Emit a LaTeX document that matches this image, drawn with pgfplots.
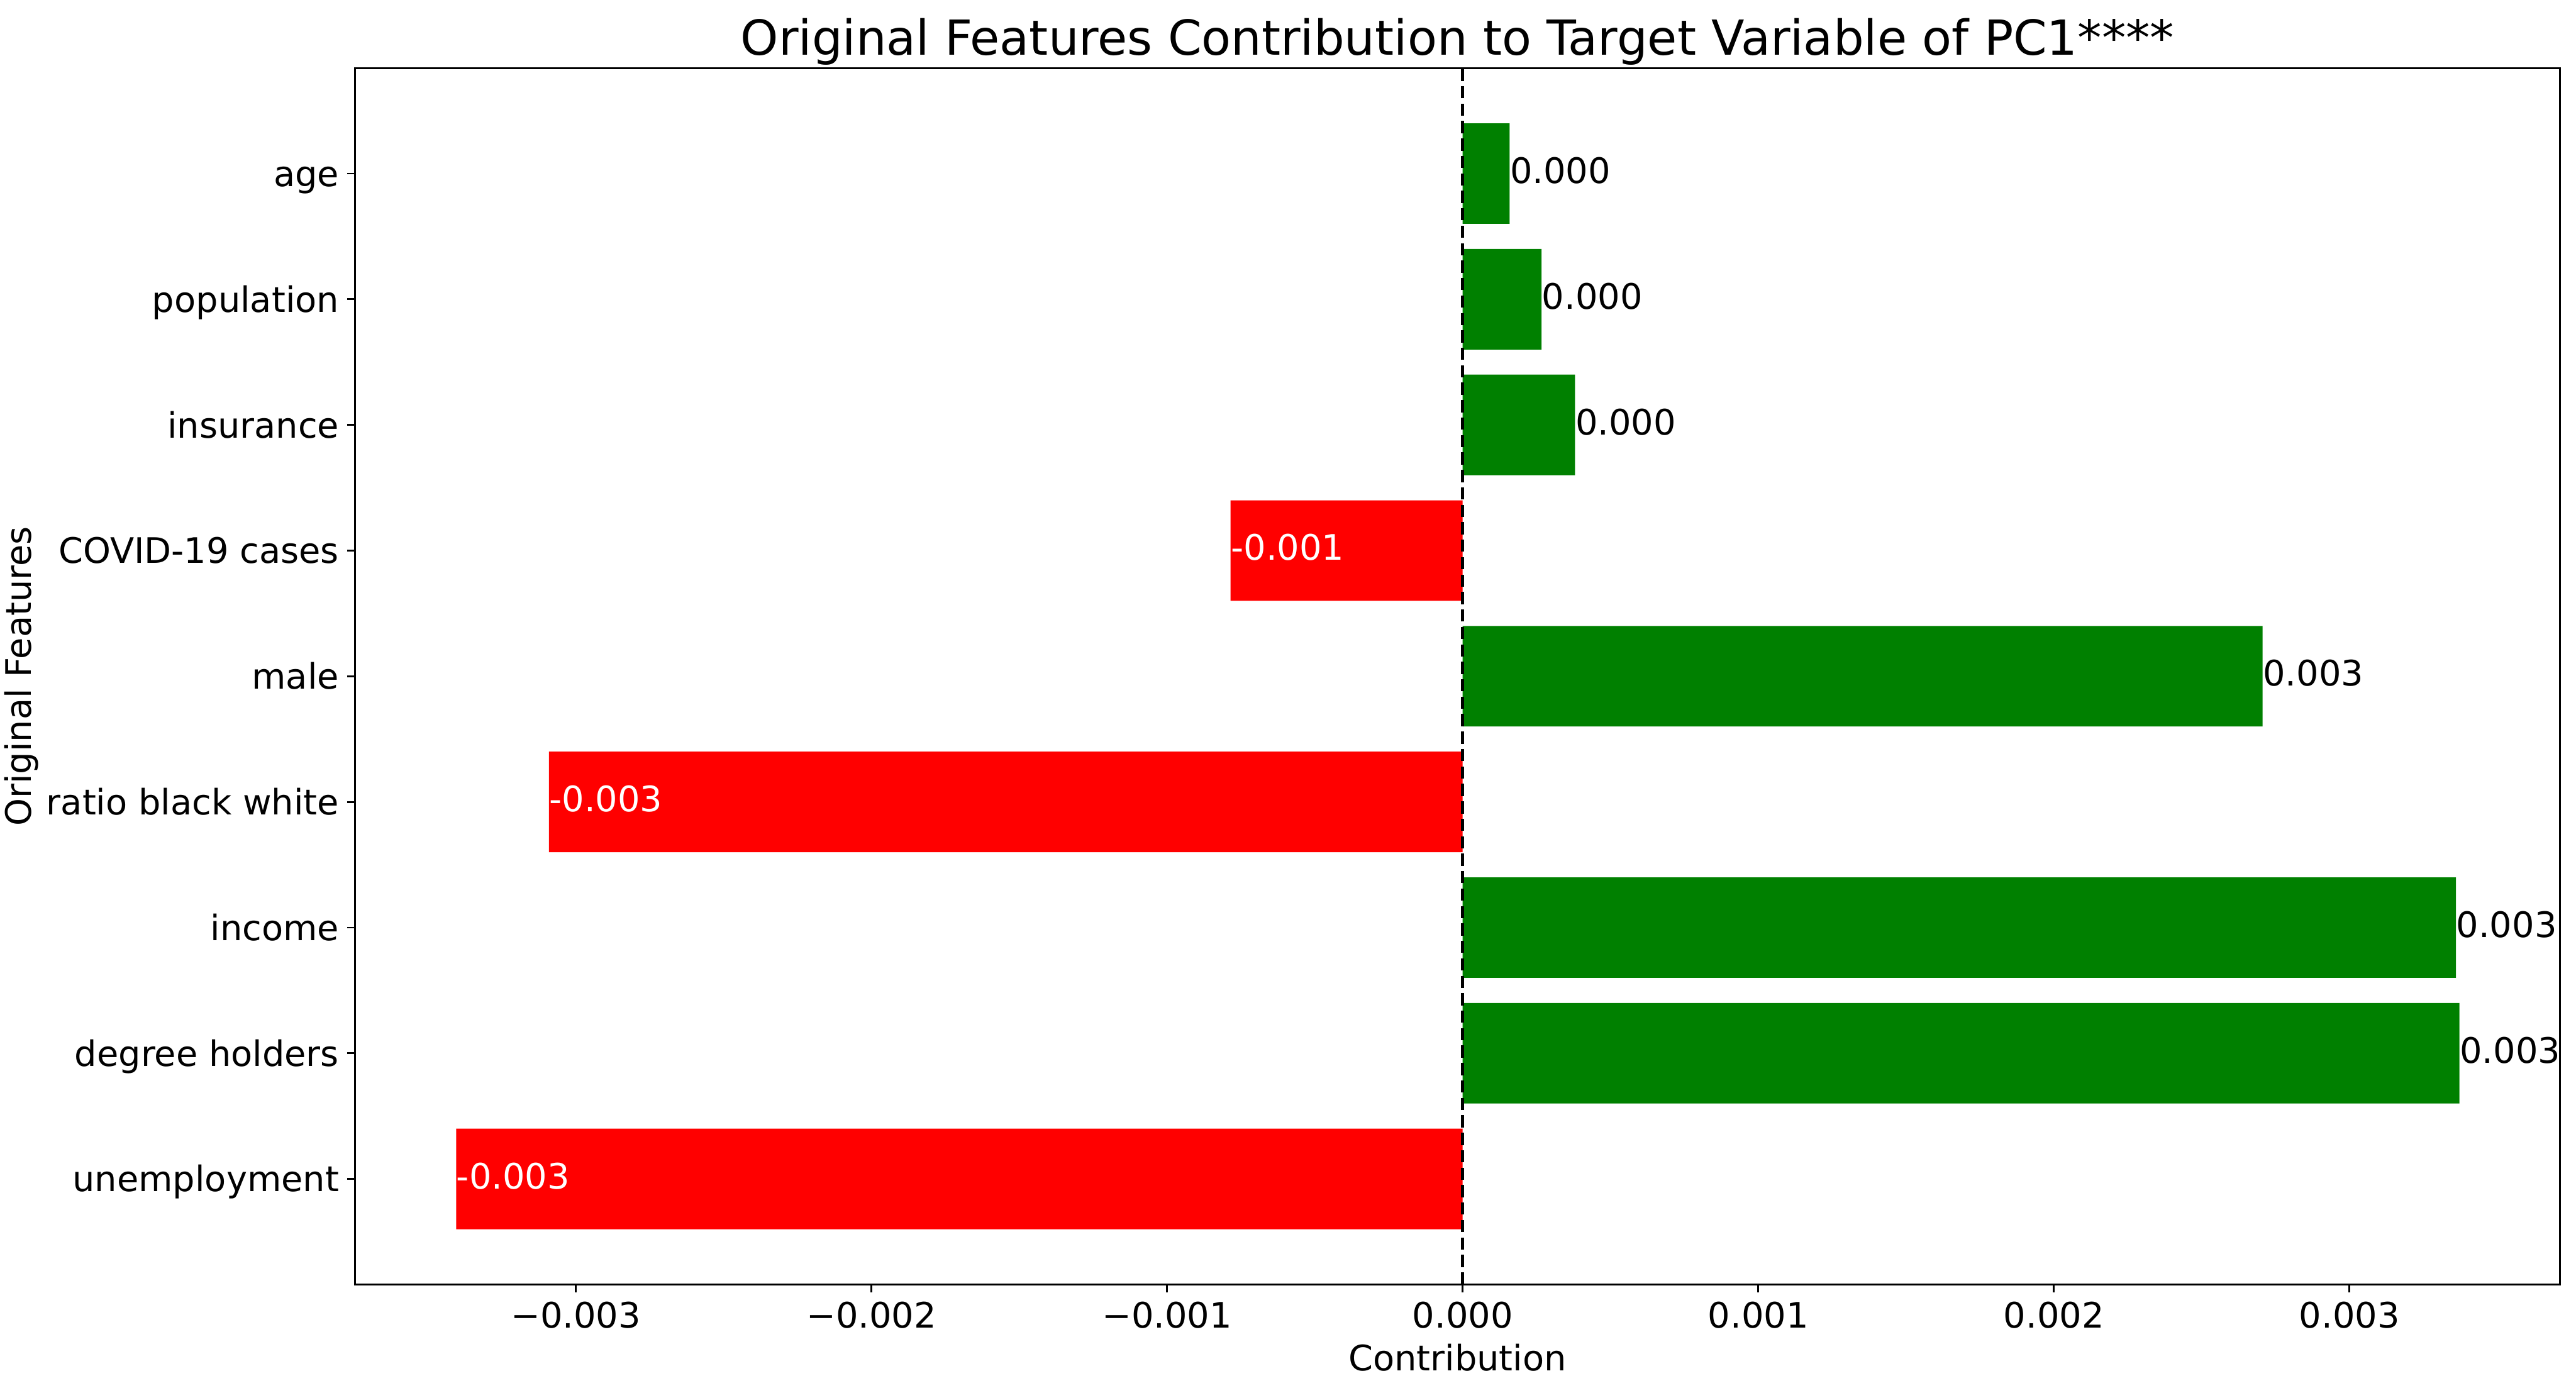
\documentclass[border=0pt]{standalone}
\usepackage{pgfplots}
\pgfplotsset{compat=1.18}
\usepackage{pgfplotstable}
\usepackage{fontspec}
\setmainfont{DejaVu Sans}
\definecolor{mplgreen}{HTML}{008000}
\definecolor{mplred}{HTML}{FF0000}
\pgfplotstableread{
idx val lab
8 0.000159 0.000
7 0.000267 0.000
6 0.000380 0.000
4 0.002706 0.003
2 0.003360 0.003
1 0.003372 0.003
}\pos
\pgfplotstableread{
idx val lab
5 -0.000785 -0.001
3 -0.003091 -0.003
0 -0.003405 -0.003
}\neg
\begin{document}
\begin{tikzpicture}
\begin{axis}[
  at={(0,0)}, anchor=south west,
  scale only axis,
  width=1004.9pt, height=554.4pt,
  xmin=-0.003747, xmax=0.003712,
  ymin=-0.84, ymax=8.84,
  scaled x ticks=false,
  axis line style={line width=0.8pt, black},
  tick align=outside,
  xtick pos=bottom, ytick pos=left,
  major tick length=3.5pt,
  every tick/.style={line width=0.8pt, black},
  xtick={-0.003,-0.002,-0.001,0,0.001,0.002,0.003},
  xticklabels={−0.003,−0.002,−0.001,0.000,0.001,0.002,0.003},
  ytick={0,1,2,3,4,5,6,7,8},
  yticklabels={unemployment,degree holders,income,ratio black white,male,COVID-19 cases,insurance,population,age},
  tick label style={font=\fontsize{16}{19.2}\selectfont, inner sep=0pt},
  xticklabel style={anchor=north},
  yticklabel style={anchor=east, text height=11.7pt, text depth=0pt},
  xticklabel shift=4.1pt,
  yticklabel shift=3.6pt,
  every axis title/.style={at={(axis description cs:0.5,1)}, anchor=base, yshift=6pt, font=\fontsize{22}{26.4}\selectfont, inner sep=0pt},
  title={Original Features Contribution to Target Variable of PC1****},
  every axis x label/.style={at={(axis description cs:0.5,-0.04834)}, anchor=north, inner sep=0pt, font=\fontsize{16}{19.2}\selectfont},
  xlabel={Contribution},
  every axis y label/.style={at={(axis description cs:-0.1468,0.5)}, rotate=90, anchor=base, inner sep=0pt, font=\fontsize{16}{19.2}\selectfont},
  ylabel={Original Features},
  clip=false,
]
\addplot[xbar, bar width=0.8, bar shift=0pt, fill=mplgreen, draw=none,
  point meta=explicit symbolic, nodes near coords, nodes near coords align={west},
  every node near coord/.append style={inner sep=0pt, yshift=1.4pt, text=black, font=\fontsize{16}{19.2}\selectfont}]
  table[x=val, y=idx, meta=lab] {\pos};
\addplot[xbar, bar width=0.8, bar shift=0pt, fill=mplred, draw=none,
  point meta=explicit symbolic, nodes near coords, nodes near coords align={west},
  every node near coord/.append style={inner sep=0pt, yshift=1.4pt, text=white, font=\fontsize{16}{19.2}\selectfont}]
  table[x=val, y=idx, meta=lab] {\neg};
\addplot[black, line width=1.5pt, dash pattern=on 5.55pt off 2.4pt, mark=none] coordinates {(0,-0.84) (0,8.84)};
\end{axis}
\pgfresetboundingbox
\useasboundingbox (-161.8pt,-49.2pt) rectangle (1012.2pt,585.4pt);
\end{tikzpicture}
\end{document}
